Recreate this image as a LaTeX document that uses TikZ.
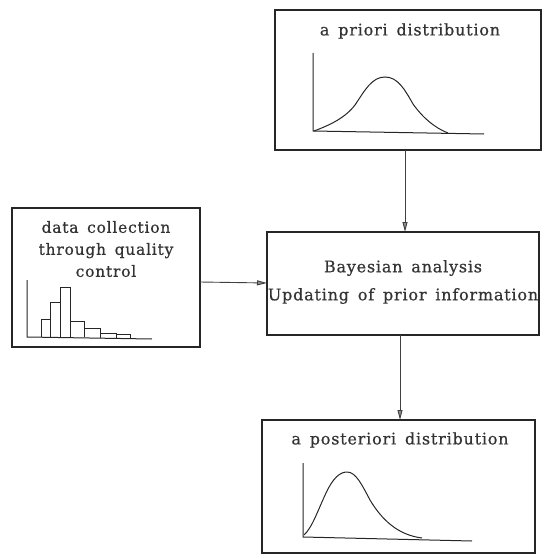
\documentclass[tikz,border=0pt]{standalone}
\usepackage{fontspec}
\setmainfont{DejaVu Serif}[LetterSpace=5,WordSpace=1.5,FakeBold=0.6]
\usetikzlibrary{arrows.meta}
\begin{document}
\begin{tikzpicture}[x=1pt,y=-1pt,
  box/.style={draw=black!85,line width=1.4pt},
  lbl/.style={font=\fontsize{16}{22}\selectfont,text=black!80,align=center,inner sep=0pt},
  ax/.style={draw=black!85,line width=1pt},
  crv/.style={draw=black!85,line width=1pt},
  arr/.style={draw=black!75,line width=0.9pt,-{Triangle[length=10pt,width=5pt,fill=black!45]}}]
\useasboundingbox (0,0) rectangle (543,559);
% boxes
\draw[box] (275,10) rectangle (541,150);
\coordinate (priorS) at (405,150);
\draw[box] (12,208) rectangle (200,347);
\coordinate (dataE) at (200,282);
\draw[box] (267,232) rectangle (539,335);
\coordinate (bayN) at (405,232);
\coordinate (bayW) at (267,283);
\coordinate (bayS) at (400,335);
\draw[box] (262,420) rectangle (535,553);
\coordinate (postN) at (400,420);
% texts
\node[lbl] (tprior) at (410,31) {a priori distribution};
\node[lbl,font=\fontsize{15.5}{22}\selectfont] (tdata) at (106,249) {data collection\\through quality\\control};
\node[lbl,font=\fontsize{16}{28}\selectfont] (tbay) at (403,282) {Bayesian analysis\\Updating of prior information};
\node[lbl] (tpost) at (400,440) {a posteriori distribution};
% prior plot
\draw[ax] (313,53) -- (313,131) -- (484,134);
\draw[crv] (314,131) .. controls (330,125) and (345,118) .. (355,105)
  .. controls (365,90) and (372,77) .. (385,77)
  .. controls (398,77) and (405,90) .. (413,104)
  .. controls (423,118) and (435,128) .. (448,133);
% data histogram
\draw[ax] (27,280) -- (27,337) -- (152,339);
\draw[ax] (41,337) -- (41,319) -- (50,319) -- (50,337);
\draw[ax] (50,319) -- (50,302) -- (60,302) -- (60,337);
\draw[ax] (60,302) -- (60,287) -- (70,287) -- (70,337);
\draw[ax] (70,321) -- (84,321) -- (84,337);
\draw[ax] (84,328) -- (100,328) -- (100,338);
\draw[ax] (100,333) -- (116,333) -- (116,338);
\draw[ax] (116,334) -- (130,334) -- (130,338);
% posterior plot
\draw[ax] (303,463) -- (303,537) -- (472,541);
\draw[crv] (304,535) .. controls (312,528) and (318,510) .. (326,493)
  .. controls (333,478) and (340,472) .. (347,472)
  .. controls (356,472) and (362,485) .. (370,500)
  .. controls (382,520) and (398,535) .. (422,538);
% arrows
\draw[arr] (priorS) -- (bayN);
\draw[arr] (dataE) -- (bayW);
\draw[arr] (bayS) -- (postN);
\end{tikzpicture}
\end{document}
